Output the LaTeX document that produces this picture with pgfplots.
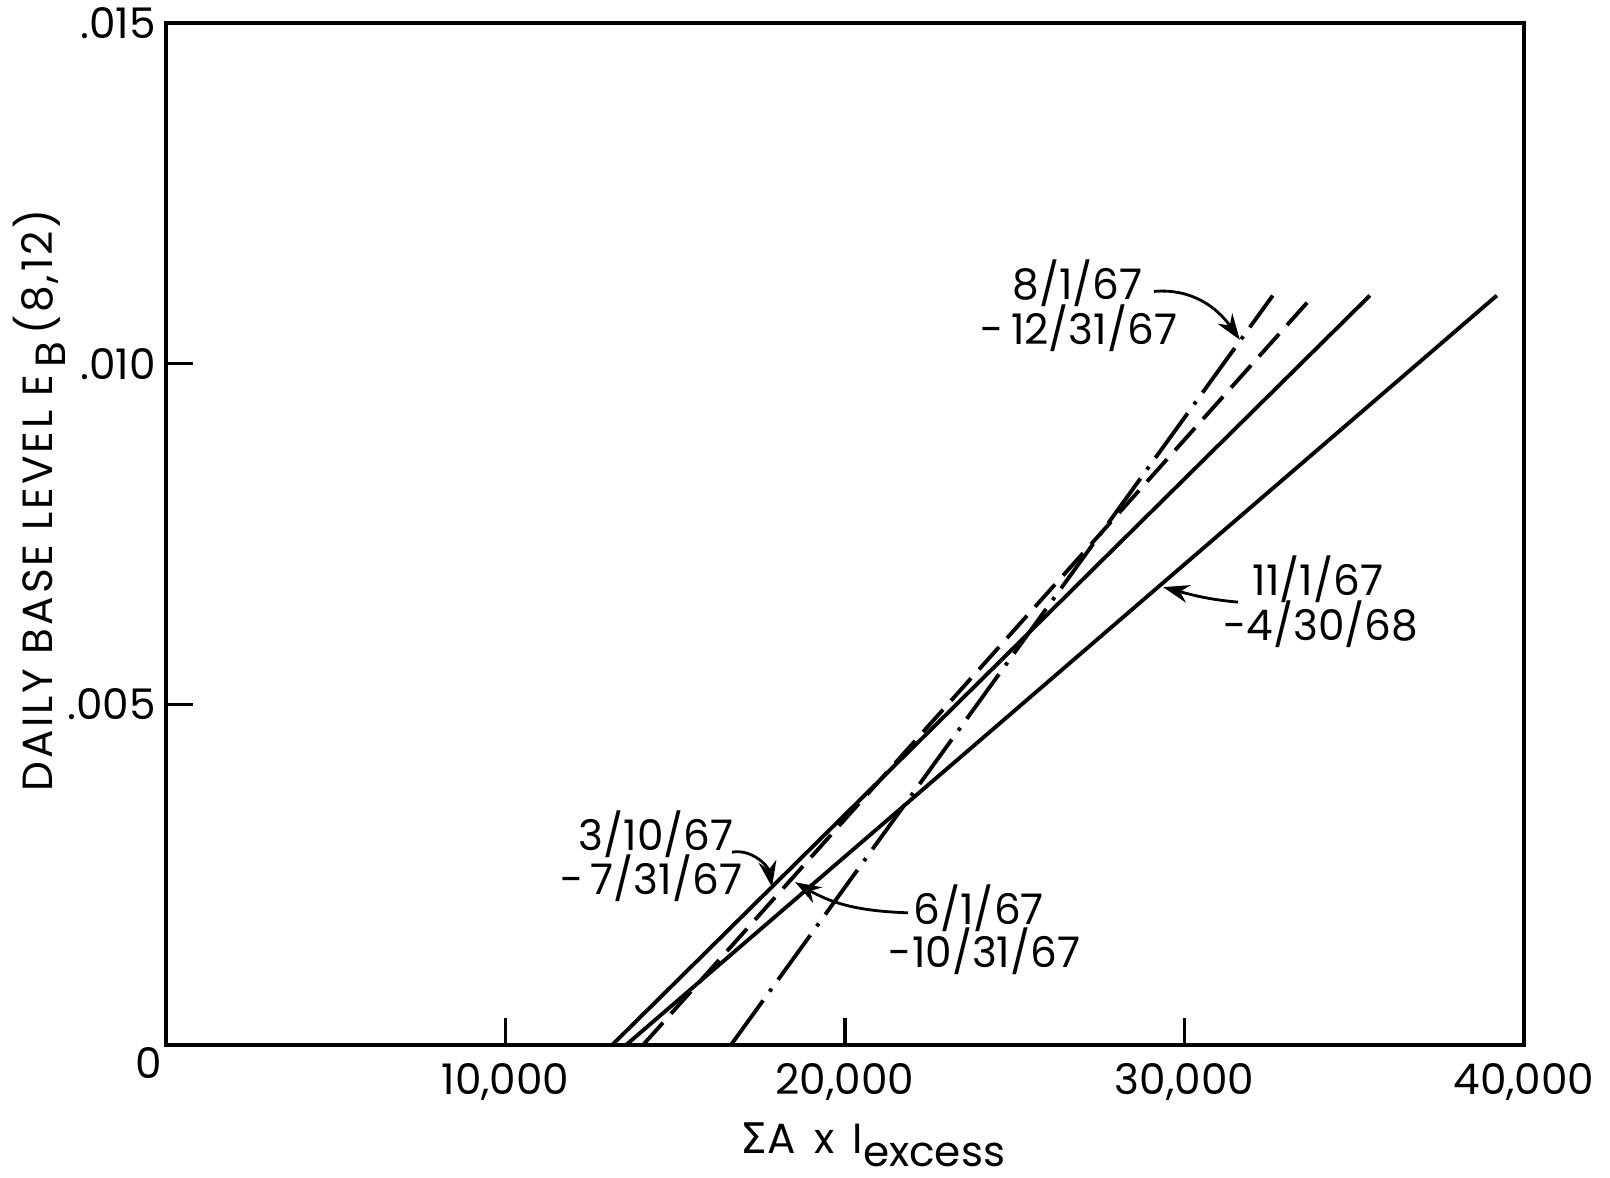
\documentclass[border=0pt]{standalone}
\usepackage{pgfplots}
\pgfplotsset{compat=1.18}
\usetikzlibrary{arrows.meta}
\usepackage{fontspec}
\setmainfont{Poppins}
\newfontfamily\dejavu{DejaVu Sans}
\newfontfamily\spaced[LetterSpace=7]{Poppins}

\begin{document}
\begin{tikzpicture}
\useasboundingbox (-16.6mm,-13.2mm) rectangle (144.4mm,104.5mm);
\begin{axis}[
  scale only axis, width=135.8mm, height=102.2mm,
  xmin=0, xmax=40000, ymin=0, ymax=0.015,
  scaled x ticks=false, scaled y ticks=false,
  axis line style={line width=0.9pt},
  tick align=inside, tick pos=left, major tick length=2.7mm,
  tick style={line width=0.9pt, black},
  xtick={10000,20000,30000,40000},
  xticklabels={{10,000},{20,000},{30,000},{40,000}},
  ytick={0.005,0.01,0.015},
  yticklabels={.005,.010,.015},
  ticklabel style={font=\fontsize{12}{14}\selectfont},
  xticklabel style={yshift=-0.6mm},
  yticklabel style={xshift=0.2mm},
  clip=false,
]
% 3/10/67 - 7/31/67
\addplot[line width=1.1pt] coordinates {(13140,0) (35460,0.011)};
% 11/1/67 - 4/30/68
\addplot[line width=1.1pt] coordinates {(13550,0) (39200,0.011)};
% 6/1/67 - 10/31/67
\addplot[line width=1.1pt, dash pattern=on 3mm off 1.2mm] coordinates {(14050,0) (33800,0.011)};
% 8/1/67 - 12/31/67
\addplot[line width=1.1pt, dash pattern=on 5.5mm off 1.1mm on 0.35mm off 1.1mm] coordinates {(16640,0) (32600,0.011)};

\node[anchor=center, font=\fontsize{12}{14}\selectfont] at (rel axis cs:0,0) [xshift=-1.7mm, yshift=-1.8mm] {0};

\begin{scope}[font=\fontsize{12}{14}\selectfont, inner sep=0pt]
\node[anchor=west] at (axis cs:24920,0.01118) {8/1/67};
\node[anchor=west] at (axis cs:23980,0.01052) {-\,12/31/67};
\node[anchor=west] at (axis cs:31990,0.00684) {11/1/67};
\node[anchor=west] at (axis cs:31130,0.00618) {-4/30/68};
\node[anchor=west] at (axis cs:12140,0.00310) {3/10/67};
\node[anchor=west] at (axis cs:11600,0.00245) {-\,7/31/67};
\node[anchor=west] at (axis cs:22000,0.00201) {6/1/67};
\node[anchor=west] at (axis cs:21270,0.00137) {-10/31/67};
\end{scope}

\begin{scope}[line width=0.8pt, -{Stealth[length=2.6mm,width=1.8mm]}]
\draw (axis cs:29100,0.01106) to[out=5, in=125] (axis cs:31630,0.01035);
\draw (axis cs:31580,0.00650) to[out=175, in=-15] (axis cs:29370,0.00672);
\draw (axis cs:16670,0.00283) to[out=10, in=100] (axis cs:17850,0.00232);
\draw (axis cs:21860,0.00194) to[out=178, in=-30] (axis cs:18530,0.00239);
\end{scope}

\node[xshift=-12.7mm, rotate=90, font=\spaced\fontsize{12}{14}\selectfont] at (rel axis cs:0,0.533)
  {DAILY BASE LEVEL E\,\raisebox{-0.55ex}{B}\,(8,12)};
\node[yshift=-10.0mm, font=\fontsize{12}{14}\selectfont] at (rel axis cs:0.5206,0)
  {{\dejavu\char"03A3}A\, x\, I\raisebox{-0.55ex}{excess}};
\end{axis}
\end{tikzpicture}
\end{document}
